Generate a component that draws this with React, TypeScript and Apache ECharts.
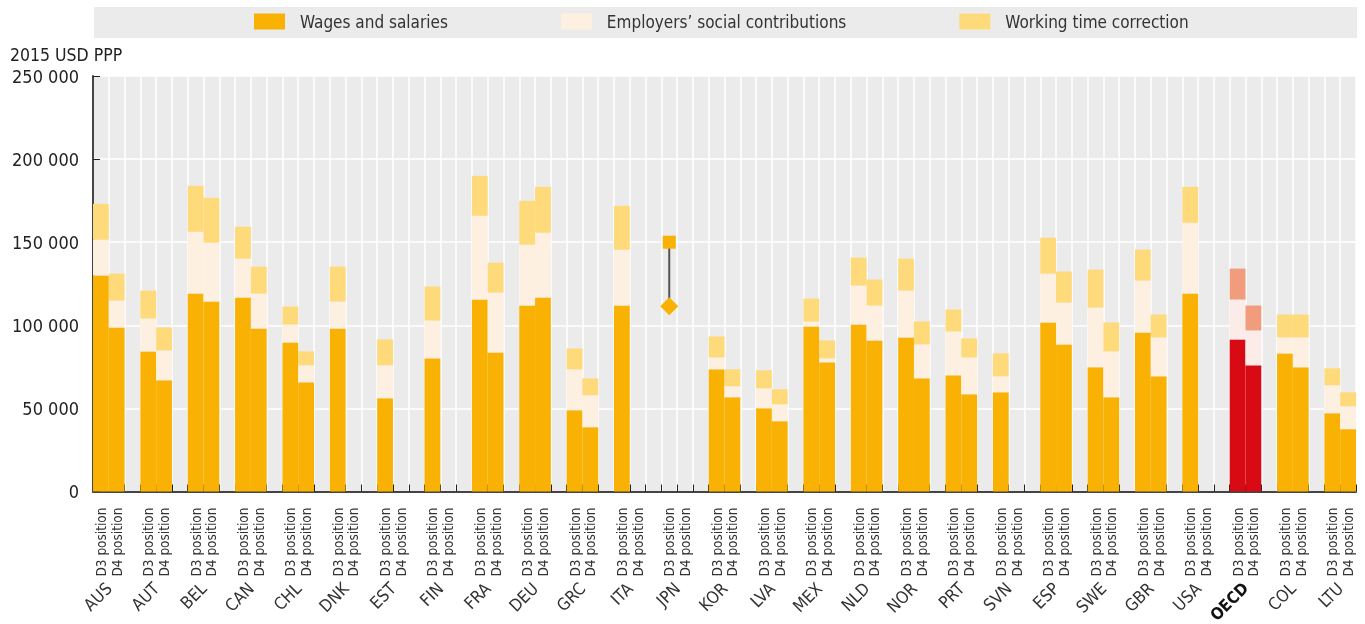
import React, { useEffect, useRef } from "react";
import * as echarts from "echarts";

const FONT = "'DejaVu Sans Condensed', 'Liberation Sans Narrow', 'Arial Narrow', Roboto, sans-serif";

const countries = ["AUS", "AUT", "BEL", "CAN", "CHL", "DNK", "EST", "FIN", "FRA", "DEU", "GRC", "ITA", "JPN", "KOR", "LVA", "MEX", "NLD", "NOR", "PRT", "SVN", "ESP", "SWE", "GBR", "USA", "OECD", "COL", "LTU"];
const positionLabels = ["D3 position", "D4 position"];
const seriesNames = ["Wages and salaries", "Employers\u2019 social contributions", "Working time correction"];

const wagesD3 = [130000, 84300, 119100, 116700, 89700, 98100, 56100, 80100, 115500, 111900, 48900, 111900, null, 73500, 50100, 99300, 100500, 92700, 69900, 59700, 101700, 74700, 95700, 119100, 91500, 83100, 47100];
const empD3 = [21500, 19800, 37200, 23400, 10800, 16200, 19800, 22800, 50400, 36600, 24600, 33600, null, 7200, 12000, 3000, 23400, 28200, 26400, 9600, 29400, 36000, 31200, 42600, 24000, 9600, 16800];
const wtcD3 = [21600, 16800, 27600, 19200, 10800, 21000, 15600, 20400, 24000, 26400, 12600, 26400, null, 12600, 10800, 13800, 16800, 19200, 13200, 13800, 21600, 22800, 18600, 21600, 18600, 13800, 10200];
const wagesD4 = [98700, 66900, 114300, 98100, 65700, null, null, null, 83700, 116700, 38700, null, null, 56700, 42300, 77700, 90900, 68100, 58500, null, 88500, 56700, 69300, null, 75900, 74700, 37500];
const empD4 = [16200, 18000, 35400, 21000, 10200, null, null, null, 36000, 39000, 19200, null, null, 6600, 10200, 2400, 21000, 20400, 22200, null, 25200, 27600, 23400, null, 21000, 18000, 13800];
const wtcD4 = [16200, 13800, 27000, 16200, 8400, null, null, null, 18000, 27600, 10200, null, null, 10200, 9000, 10800, 15600, 13800, 11400, null, 18600, 17400, 13800, null, 15000, 13800, 8400];

// Japan: only an aggregate marker (square) and a diamond, D3 position
const jpnSquare = 150000;
const jpnDiamond = 111500;

const yTicks = { min: 0, max: 250000, interval: 50000 };

const COLORS = ["#f9b104", "#fdf0e1", "#ffda7b"];
const OECD_COLORS = ["#d80b15", "#fbece9", "#f29c7e"];

function buildSlots() {
  const labels: string[] = [];
  const slotCountry: number[] = [];
  const slotPos: number[] = [];
  countries.forEach((_, k) => {
    labels.push(positionLabels[0]);
    slotCountry.push(k);
    slotPos.push(0);
    labels.push(positionLabels[1]);
    slotCountry.push(k);
    slotPos.push(1);
    if (k < countries.length - 1) {
      labels.push("");
      slotCountry.push(k);
      slotPos.push(-1);
    }
  });
  return { labels, slotCountry, slotPos };
}

function fmt(v: number) {
  return String(v).replace(/\B(?=(\d{3})+(?!\d))/g, " ");
}

export default function App() {
  const ref = useRef<HTMLDivElement>(null);
  useEffect(() => {
    if (!ref.current) return;
    const chart = echarts.init(ref.current, undefined, { renderer: "svg" });
    const { labels, slotCountry, slotPos } = buildSlots();
    const oecdIdx = countries.indexOf("OECD");
    const jpnIdx = countries.indexOf("JPN");
    const jpnSlot = slotCountry.findIndex((c, i) => c === jpnIdx && slotPos[i] === 0);

    const srcD3 = [wagesD3, empD3, wtcD3];
    const srcD4 = [wagesD4, empD4, wtcD4];

    const barSeries = seriesNames.map((name, s) => ({
      name,
      type: "bar",
      stack: "total",
      barCategoryGap: 0,
      barGap: 0,
      itemStyle: { color: COLORS[s] },
      data: labels.map((_, i) => {
        const c = slotCountry[i];
        const p = slotPos[i];
        if (p < 0) return "-";
        const v = (p === 0 ? srcD3[s] : srcD4[s])[c];
        if (v == null) return "-";
        if (c === oecdIdx) return { value: v, itemStyle: { color: OECD_COLORS[s] } };
        return v;
      }),
    }));

    // country axis: half-slot boundaries, labels at the D3/D4 boundary
    const nHalf = labels.length * 2 + 1;
    const countryCats: string[] = [];
    for (let j = 0; j < nHalf; j++) countryCats.push("");
    countries.forEach((c, k) => {
      countryCats[6 * k + 2] = c;
    });

    chart.setOption({
      animation: false,
      textStyle: { fontFamily: FONT },
      graphic: [
        { type: "rect", shape: { x: 94, y: 7, width: 1263, height: 31 }, style: { fill: "#ebebeb" }, z: -10 },
      ],
      title: {
        text: "2015 USD PPP",
        left: 5,
        top: 41,
        textStyle: { fontFamily: FONT, fontSize: 17.5, fontWeight: "normal", color: "#222" },
      },
      legend: {
        data: seriesNames,
        left: 249,
        top: 8,
        itemWidth: 31,
        itemHeight: 16,
        itemGap: 113,
        icon: "rect",
        textStyle: { fontFamily: FONT, fontSize: 17, color: "#333", padding: [0, 0, 0, 10] },
      },
      grid: {
        left: 93,
        right: 9,
        top: 76,
        bottom: 132.5,
        show: true,
        backgroundColor: "#ebebeb",
        borderWidth: 0,
        containLabel: false,
        outerBoundsMode: "none",
      },
      xAxis: [
        {
          type: "category",
          data: labels,
          position: "bottom",
          axisLine: { show: true, onZero: false, lineStyle: { color: "#444", width: 2 } },
          axisTick: { show: true, inside: true, length: 7, interval: 0, lineStyle: { color: "#222", width: 1 } },
          splitLine: { show: true, interval: 0, lineStyle: { color: "#ffffff", width: 1.5 } },
          axisLabel: {
            interval: 0,
            rotate: 90,
            margin: 16,
            fontFamily: FONT,
            fontSize: 13.5,
            color: "#333",
          },
        },
        {
          type: "category",
          data: countryCats,
          position: "bottom",
          boundaryGap: false,
          axisLine: { show: false, onZero: false },
          axisTick: { show: false },
          splitLine: { show: false },
          axisLabel: {
            interval: 0,
            rotate: 45,
            margin: 94,
            fontFamily: FONT,
            fontSize: 17,
            color: "#333",
            formatter: (v: string) => (v === "OECD" ? "{b|OECD}" : v),
            rich: {
              b: { fontWeight: "bold", fontFamily: FONT, fontSize: 16.5, color: "#111" },
            },
          },
        },
      ],
      yAxis: {
        type: "value",
        min: yTicks.min,
        max: yTicks.max,
        interval: yTicks.interval,
        axisLine: { show: true, lineStyle: { color: "#444", width: 2 } },
        axisTick: { show: true, inside: true, length: 7, lineStyle: { color: "#222" } },
        splitLine: { show: true, lineStyle: { color: "#ffffff", width: 1.5 } },
        axisLabel: {
          show: true,
          margin: 14,
          fontFamily: FONT,
          fontSize: 18,
          color: "#222",
          formatter: (v: number) => fmt(v),
        },
      },
      series: [
        ...barSeries,
        {
          type: "custom",
          name: "jpnLine",
          xAxisIndex: 0,
          data: [[jpnSlot, jpnSquare, jpnDiamond]],
          renderItem: (params: any, api: any) => {
            const a = api.coord([api.value(0), api.value(1)]);
            const b = api.coord([api.value(0), api.value(2)]);
            return {
              type: "line",
              shape: { x1: a[0], y1: a[1], x2: b[0], y2: b[1] },
              style: { stroke: "#555", lineWidth: 2 },
            };
          },
          z: 3,
        },
        {
          type: "scatter",
          name: "jpnSquare",
          symbol: "rect",
          symbolSize: 13,
          itemStyle: { color: COLORS[0], opacity: 1 },
          data: [[jpnSlot, jpnSquare]],
          z: 5,
        },
        {
          type: "scatter",
          name: "jpnDiamond",
          symbol: "diamond",
          symbolSize: [18, 18],
          itemStyle: { color: COLORS[0], opacity: 1 },
          data: [[jpnSlot, jpnDiamond]],
          z: 5,
        },
      ],
    });
    return () => chart.dispose();
  }, []);
  return <div ref={ref} style={{ position: "fixed", left: 0, top: 0, width: 1365, height: 624 }} />;
}
